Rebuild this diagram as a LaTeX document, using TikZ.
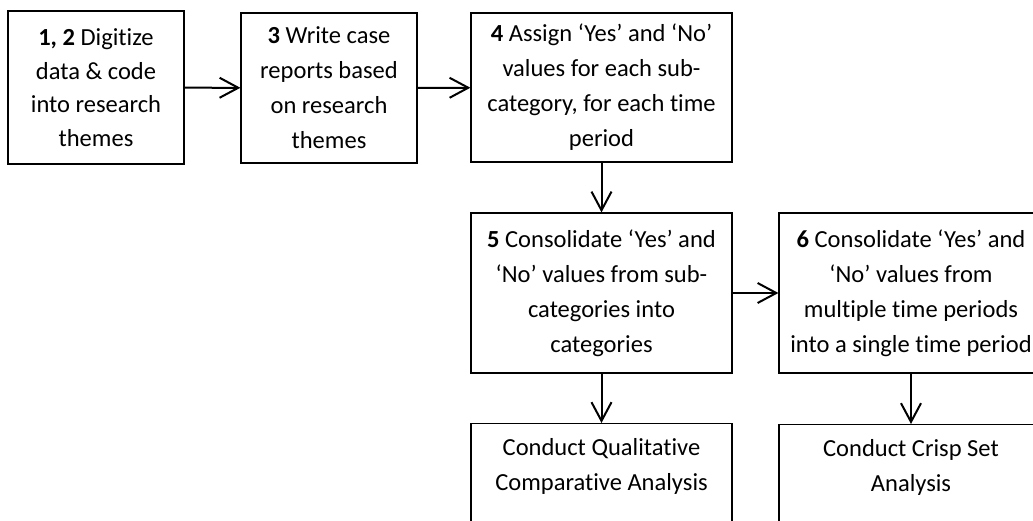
\documentclass[tikz,border=0pt]{standalone}
\usepackage{fontspec}
\setmainfont{Carlito}[Ligatures=NoCommon]
\usetikzlibrary{arrows.meta, positioning}

\begin{document}
\begin{tikzpicture}[
    x=0.75pt, y=-0.75pt,
    font=\fontsize{18.4}{26.25}\selectfont,
    stepbox/.style={draw, line width=0.9pt, align=center, inner sep=0pt},
    openbox/.style={stepbox, anchor=north, inner ysep=11pt, text depth=70pt},
    flow/.style={-{Straight Barb[length=14pt, width=15pt, line width=1.5pt]}, line width=1.5pt},
  ]
  \useasboundingbox (0,0) rectangle (1033,521);
  \clip (0,0) rectangle (1033,521);

  % --- top row ---
  \node[stepbox, minimum width=132pt, minimum height=114.75pt] (b12) at (96,87.5)
    {\textbf{1, 2} Digitize\\[-1pt]data \& code\\[-1pt]into research\\[-1pt]themes};
  \node[stepbox, minimum width=132pt, minimum height=112.5pt] (b3) at (329,88)
    {\textbf{3} Write case\\reports based\\on research\\themes};
  \node[stepbox, minimum width=195.75pt, minimum height=111.75pt] (b4) at (601.5,87.5)
    {\textbf{4} Assign `Yes' and `No'\\values for each sub-\\category, for each time\\period};

  % --- middle row ---
  \node[stepbox, minimum width=195.75pt, minimum height=120pt] (b5) at (601.5,293)
    {\textbf{5} Consolidate `Yes' and\\`No' values from sub-\\categories into\\categories};
  \node[stepbox, minimum width=198pt, minimum height=120pt] (b6) at (911,293)
    {\textbf{6} Consolidate `Yes' and\\`No' values from\\multiple time periods\\into a single time period};

  % --- bottom row (cut off at the lower edge) ---
  \node[openbox, minimum width=195.75pt] (b7) at (601.5,423)
    {Conduct Qualitative\\Comparative Analysis};
  \node[openbox, minimum width=198pt] (b8) at (911,424)
    {Conduct Crisp Set\\Analysis};

  % --- flow ---
  \draw[flow] (b12) -- (b3);
  \draw[flow] (b3) -- (b4);
  \draw[flow] (b4) -- (b5);
  \draw[flow] (b5) -- (b6);
  \draw[flow] (b5) -- (b7);
  \draw[flow] (b6) -- (b8);
\end{tikzpicture}
\end{document}
